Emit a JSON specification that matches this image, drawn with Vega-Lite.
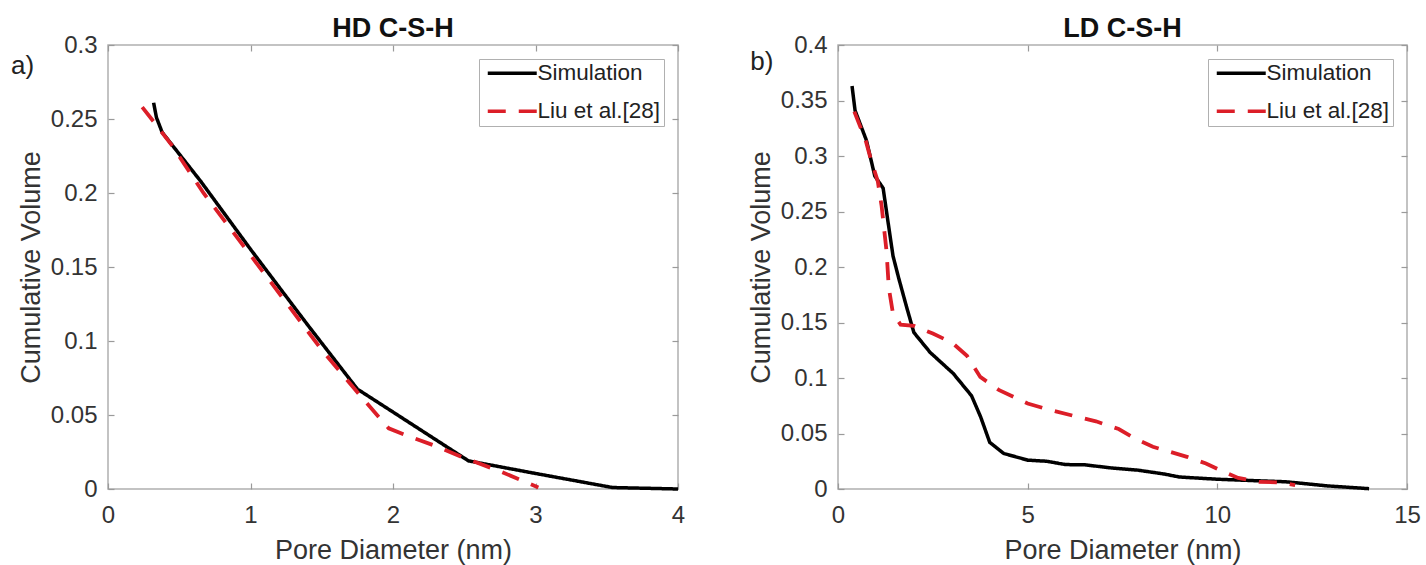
{
  "$schema": "https://vega.github.io/schema/vega-lite/v6.json",
  "background": "white",
  "padding": {"left": 10, "top": 14, "right": 6, "bottom": 2},
  "config": {
    "font": "Liberation Sans",
    "view": {"stroke": "#b0b0b0", "strokeWidth": 1.5},
    "axis": {
      "grid": false,
      "domain": false,
      "tickColor": "#9a9a9a",
      "tickSize": -6,
      "tickWidth": 1.2,
      "labelFont": "Liberation Sans",
      "labelFontSize": 24,
      "labelColor": "#333333",
      "labelFlush": false,
      "labelOverlap": false,
      "titleFont": "Liberation Sans",
      "titleFontSize": 27,
      "titleFontWeight": "normal",
      "titleColor": "#333333"
    },
    "axisX": {"labelPadding": 20, "titlePadding": 10},
    "axisY": {"labelPadding": 17, "titlePadding": 5},
    "title": {"font": "Liberation Sans", "fontSize": 27, "fontWeight": "bold", "color": "#111111", "offset": -10, "anchor": "middle", "frame": "group"},
    "legend": {
      "orient": "top-right",
      "offset": 14,
      "title": null,
      "labelFont": "Liberation Sans",
      "labelFontSize": 22.5,
      "labelColor": "#222222",
      "labelOffset": 14,
      "symbolType": "M-2.8,0H2.8",
      "symbolSize": 306,
      "symbolOffset": 19,
      "symbolStrokeWidth": 3.5,
      "strokeColor": "#b0b0b0",
      "fillColor": "white",
      "padding": 3,
      "rowPadding": 15
    }
  },
  "datasets": {
    "hd": [
      {"d": 0.32, "v": 0.261, "series": "Simulation"},
      {"d": 0.34, "v": 0.251, "series": "Simulation"},
      {"d": 0.38, "v": 0.241, "series": "Simulation"},
      {"d": 0.65, "v": 0.208, "series": "Simulation"},
      {"d": 1.0, "v": 0.162, "series": "Simulation"},
      {"d": 1.4, "v": 0.111, "series": "Simulation"},
      {"d": 1.75, "v": 0.0675, "series": "Simulation"},
      {"d": 2.0, "v": 0.052, "series": "Simulation"},
      {"d": 2.53, "v": 0.019, "series": "Simulation"},
      {"d": 3.0, "v": 0.0105, "series": "Simulation"},
      {"d": 3.54, "v": 0.001, "series": "Simulation"},
      {"d": 4.0, "v": 0.0, "series": "Simulation"},
      {"d": 0.24, "v": 0.258, "series": "Liu et al.[28]"},
      {"d": 0.33, "v": 0.247, "series": "Liu et al.[28]"},
      {"d": 0.45, "v": 0.232, "series": "Liu et al.[28]"},
      {"d": 0.67, "v": 0.2, "series": "Liu et al.[28]"},
      {"d": 1.0, "v": 0.158, "series": "Liu et al.[28]"},
      {"d": 1.5, "v": 0.094, "series": "Liu et al.[28]"},
      {"d": 1.78, "v": 0.062, "series": "Liu et al.[28]"},
      {"d": 1.97, "v": 0.041, "series": "Liu et al.[28]"},
      {"d": 2.1, "v": 0.036, "series": "Liu et al.[28]"},
      {"d": 2.3, "v": 0.029, "series": "Liu et al.[28]"},
      {"d": 2.5, "v": 0.021, "series": "Liu et al.[28]"},
      {"d": 2.75, "v": 0.012, "series": "Liu et al.[28]"},
      {"d": 3.02, "v": 0.001, "series": "Liu et al.[28]"}
    ],
    "ld": [
      {"d": 0.37, "v": 0.363, "series": "Simulation"},
      {"d": 0.45, "v": 0.341, "series": "Simulation"},
      {"d": 0.75, "v": 0.314, "series": "Simulation"},
      {"d": 0.97, "v": 0.282, "series": "Simulation"},
      {"d": 1.19, "v": 0.271, "series": "Simulation"},
      {"d": 1.3, "v": 0.245, "series": "Simulation"},
      {"d": 1.45, "v": 0.21, "series": "Simulation"},
      {"d": 1.6, "v": 0.19, "series": "Simulation"},
      {"d": 1.8, "v": 0.165, "series": "Simulation"},
      {"d": 2.0, "v": 0.141, "series": "Simulation"},
      {"d": 2.43, "v": 0.123, "series": "Simulation"},
      {"d": 3.04, "v": 0.104, "series": "Simulation"},
      {"d": 3.52, "v": 0.084, "series": "Simulation"},
      {"d": 3.76, "v": 0.065, "series": "Simulation"},
      {"d": 4.0, "v": 0.042, "series": "Simulation"},
      {"d": 4.37, "v": 0.032, "series": "Simulation"},
      {"d": 5.0, "v": 0.026, "series": "Simulation"},
      {"d": 5.5, "v": 0.025, "series": "Simulation"},
      {"d": 6.0, "v": 0.022, "series": "Simulation"},
      {"d": 6.5, "v": 0.0218, "series": "Simulation"},
      {"d": 7.2, "v": 0.019, "series": "Simulation"},
      {"d": 7.9, "v": 0.017, "series": "Simulation"},
      {"d": 8.6, "v": 0.0135, "series": "Simulation"},
      {"d": 9.0, "v": 0.0108, "series": "Simulation"},
      {"d": 10.0, "v": 0.0088, "series": "Simulation"},
      {"d": 11.0, "v": 0.0075, "series": "Simulation"},
      {"d": 11.8, "v": 0.0065, "series": "Simulation"},
      {"d": 12.2, "v": 0.0052, "series": "Simulation"},
      {"d": 12.9, "v": 0.0028, "series": "Simulation"},
      {"d": 14.0, "v": 0.0003, "series": "Simulation"},
      {"d": 0.43, "v": 0.34, "series": "Liu et al.[28]"},
      {"d": 0.73, "v": 0.314, "series": "Liu et al.[28]"},
      {"d": 0.85, "v": 0.299, "series": "Liu et al.[28]"},
      {"d": 1.05, "v": 0.277, "series": "Liu et al.[28]"},
      {"d": 1.15, "v": 0.255, "series": "Liu et al.[28]"},
      {"d": 1.28, "v": 0.214, "series": "Liu et al.[28]"},
      {"d": 1.34, "v": 0.181, "series": "Liu et al.[28]"},
      {"d": 1.45, "v": 0.158, "series": "Liu et al.[28]"},
      {"d": 1.65, "v": 0.148, "series": "Liu et al.[28]"},
      {"d": 2.0, "v": 0.147, "series": "Liu et al.[28]"},
      {"d": 2.5, "v": 0.14, "series": "Liu et al.[28]"},
      {"d": 3.0, "v": 0.132, "series": "Liu et al.[28]"},
      {"d": 3.4, "v": 0.12, "series": "Liu et al.[28]"},
      {"d": 3.75, "v": 0.101, "series": "Liu et al.[28]"},
      {"d": 4.25, "v": 0.089, "series": "Liu et al.[28]"},
      {"d": 5.0, "v": 0.077, "series": "Liu et al.[28]"},
      {"d": 5.5, "v": 0.072, "series": "Liu et al.[28]"},
      {"d": 6.2, "v": 0.066, "series": "Liu et al.[28]"},
      {"d": 6.8, "v": 0.061, "series": "Liu et al.[28]"},
      {"d": 7.4, "v": 0.054, "series": "Liu et al.[28]"},
      {"d": 7.8, "v": 0.046, "series": "Liu et al.[28]"},
      {"d": 8.3, "v": 0.038, "series": "Liu et al.[28]"},
      {"d": 8.7, "v": 0.034, "series": "Liu et al.[28]"},
      {"d": 9.2, "v": 0.029, "series": "Liu et al.[28]"},
      {"d": 9.7, "v": 0.023, "series": "Liu et al.[28]"},
      {"d": 10.2, "v": 0.015, "series": "Liu et al.[28]"},
      {"d": 10.55, "v": 0.01, "series": "Liu et al.[28]"},
      {"d": 11.1, "v": 0.0065, "series": "Liu et al.[28]"},
      {"d": 11.6, "v": 0.006, "series": "Liu et al.[28]"},
      {"d": 12.05, "v": 0.0035, "series": "Liu et al.[28]"}
    ],
    "hdlabel": [{"d": -0.6, "v": 0.286, "t": "a)"}],
    "ldlabel": [{"d": -2.01, "v": 0.385, "t": "b)"}]
  },
  "hconcat": [
    {
      "width": 570,
      "height": 444,
      "title": "HD C-S-H",
      "layer": [
        {
          "data": {"name": "hd"},
          "transform": [{"filter": "datum.series === 'Simulation'"}],
          "mark": {"type": "line", "strokeWidth": 3.5},
          "encoding": {
            "x": {"field": "d", "type": "quantitative", "scale": {"domain": [0, 4], "nice": false, "zero": false}, "axis": {"title": "Pore Diameter (nm)", "values": [0, 1, 2, 3, 4], "format": "~g"}},
            "y": {"field": "v", "type": "quantitative", "scale": {"domain": [0, 0.3], "nice": false, "zero": false}, "axis": {"title": "Cumulative Volume", "values": [0, 0.05, 0.1, 0.15, 0.2, 0.25, 0.3], "format": "~g"}},
            "color": {"field": "series", "type": "nominal", "scale": {"domain": ["Simulation", "Liu et al.[28]"], "range": ["#000000", "#dc1e28"]}},
            "strokeDash": {"field": "series", "type": "nominal", "scale": {"domain": ["Simulation", "Liu et al.[28]"], "range": [[1, 0], [18, 13]]}}
          }
        },
        {
          "data": {"name": "hd"},
          "transform": [{"filter": "datum.series !== 'Simulation'"}],
          "mark": {"type": "line", "strokeWidth": 3.8},
          "encoding": {
            "x": {"field": "d", "type": "quantitative", "axis": {"orient": "top", "title": null, "labels": false, "values": [0, 1, 2, 3, 4], "minExtent": 0, "maxExtent": 0, "labelPadding": 0}},
            "y": {"field": "v", "type": "quantitative", "axis": {"orient": "right", "title": null, "labels": false, "values": [0, 0.05, 0.1, 0.15, 0.2, 0.25, 0.3], "minExtent": 0, "maxExtent": 0, "labelPadding": 0}},
            "color": {"field": "series", "type": "nominal"},
            "strokeDash": {"field": "series", "type": "nominal"}
          }
        },
        {
          "data": {"name": "hdlabel"},
          "mark": {"type": "text", "fontSize": 26, "font": "Liberation Sans", "color": "#222222", "align": "center", "baseline": "middle"},
          "encoding": {
            "x": {"field": "d", "type": "quantitative", "axis": null},
            "y": {"field": "v", "type": "quantitative", "axis": null},
            "text": {"field": "t"}
          }
        }
      ],
      "resolve": {"axis": {"x": "independent", "y": "independent"}}
    },
    {
      "width": 569,
      "height": 444,
      "title": "LD C-S-H",
      "layer": [
        {
          "data": {"name": "ld"},
          "transform": [{"filter": "datum.series === 'Simulation'"}],
          "mark": {"type": "line", "strokeWidth": 3.5},
          "encoding": {
            "x": {"field": "d", "type": "quantitative", "scale": {"domain": [0, 15], "nice": false, "zero": false}, "axis": {"title": "Pore Diameter (nm)", "values": [0, 5, 10, 15], "format": "~g"}},
            "y": {"field": "v", "type": "quantitative", "scale": {"domain": [0, 0.4], "nice": false, "zero": false}, "axis": {"title": "Cumulative Volume", "values": [0, 0.05, 0.1, 0.15, 0.2, 0.25, 0.3, 0.35, 0.4], "format": "~g"}},
            "color": {"field": "series", "type": "nominal", "scale": {"domain": ["Simulation", "Liu et al.[28]"], "range": ["#000000", "#dc1e28"]}},
            "strokeDash": {"field": "series", "type": "nominal", "scale": {"domain": ["Simulation", "Liu et al.[28]"], "range": [[1, 0], [18, 13]]}}
          }
        },
        {
          "data": {"name": "ld"},
          "transform": [{"filter": "datum.series !== 'Simulation'"}],
          "mark": {"type": "line", "strokeWidth": 3.8},
          "encoding": {
            "x": {"field": "d", "type": "quantitative", "axis": {"orient": "top", "title": null, "labels": false, "values": [0, 5, 10, 15], "minExtent": 0, "maxExtent": 0, "labelPadding": 0}},
            "y": {"field": "v", "type": "quantitative", "axis": {"orient": "right", "title": null, "labels": false, "values": [0, 0.05, 0.1, 0.15, 0.2, 0.25, 0.3, 0.35, 0.4], "minExtent": 0, "maxExtent": 0, "labelPadding": 0}},
            "color": {"field": "series", "type": "nominal"},
            "strokeDash": {"field": "series", "type": "nominal"}
          }
        },
        {
          "data": {"name": "ldlabel"},
          "mark": {"type": "text", "fontSize": 26, "font": "Liberation Sans", "color": "#222222", "align": "center", "baseline": "middle"},
          "encoding": {
            "x": {"field": "d", "type": "quantitative", "axis": null},
            "y": {"field": "v", "type": "quantitative", "axis": null},
            "text": {"field": "t"}
          }
        }
      ],
      "resolve": {"axis": {"x": "independent", "y": "independent"}}
    }
  ],
  "spacing": 160,
  "bounds": "flush",
  "resolve": {"scale": {"color": "independent", "strokeDash": "independent"}, "legend": {"color": "independent", "strokeDash": "independent"}}
}
